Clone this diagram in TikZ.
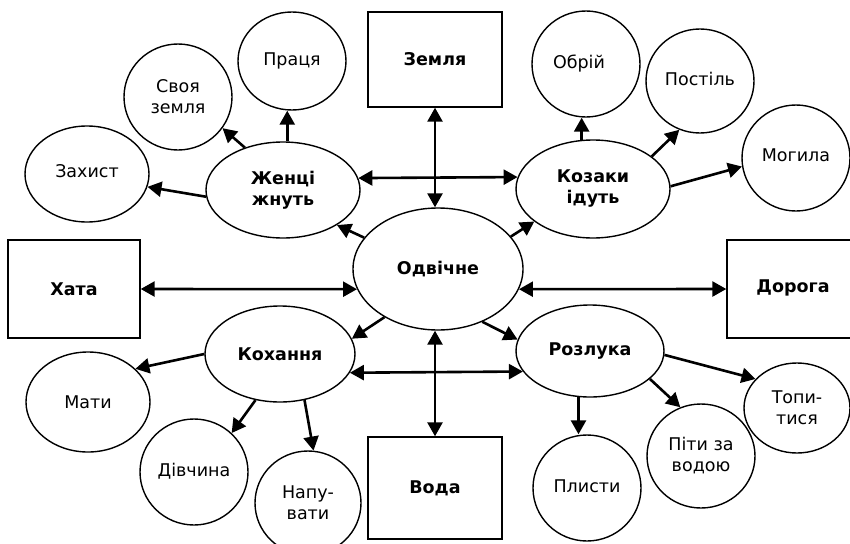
\documentclass[tikz,border=0pt]{standalone}
\usepackage{fontspec}
\setmainfont{DejaVu Sans}
\usetikzlibrary{shapes.geometric,arrows.meta}
\begin{document}
\begin{tikzpicture}[x=1pt,y=-1pt,
  every node/.style={font=\fontsize{17.5}{21}\selectfont, align=center, inner sep=0pt},
  el/.style={draw, ellipse, line width=1.4pt},
  bx/.style={draw, rectangle, line width=1.4pt},
  bold/.style={font=\fontsize{17.5}{21}\selectfont\bfseries},
  arr/.style={line width=2.6pt, -{Triangle[length=14pt,width=15pt]}},
  darr/.style={line width=2.6pt, {Triangle[length=14pt,width=15pt]}-{Triangle[length=14pt,width=15pt]}}]
\useasboundingbox (0,0) rectangle (850,543);
\clip (0,0) rectangle (850,543);
% boxes
\node[bx, bold, minimum width=134pt, minimum height=95pt] (zm) at (435,59.5) {Земля};
\node[bx, bold, minimum width=132pt, minimum height=98pt] (kh) at (74,289) {Хата};
\node[bx, bold, minimum width=132pt, minimum height=98pt] (dr) at (793,289) {\raisebox{6pt}{Дорога}};
\node[bx, bold, minimum width=134pt, minimum height=102pt] (vd) at (435,488) {Вода};
% main ellipses
\node[el, bold, minimum width=170pt, minimum height=122pt] (od) at (438,269) {Одвічне};
\node[el, bold, minimum width=154pt, minimum height=96pt] (zh) at (283,190) {Женці\\жнуть};
\node[el, bold, minimum width=154pt, minimum height=98pt] (kz) at (593,189) {Козаки\\ідуть};
\node[el, bold, minimum width=150pt, minimum height=96pt] (ko) at (280,354) {Кохання};
\node[el, bold, minimum width=148pt, minimum height=92pt] (ro) at (590,351) {Розлука};
% small circles
\node[el, minimum width=108pt, minimum height=98pt] (pr) at (292,61) {Праця};
\node[el, minimum width=108pt, minimum height=106pt] (sz) at (178,97) {Своя\\земля};
\node[el, minimum width=124pt, minimum height=96pt] (zx) at (87,174) {\raisebox{5pt}{Захист}};
\node[el, minimum width=108pt, minimum height=106pt] (ob) at (586,64) {\raisebox{4pt}{Обрій\hspace{14pt}}};
\node[el, minimum width=108pt, minimum height=104pt] (ps) at (700,81) {\raisebox{4pt}{Постіль}};
\node[el, minimum width=108pt, minimum height=106pt] (mg) at (796,158) {\raisebox{5pt}{Могила}};
\node[el, minimum width=124pt, minimum height=100pt] (mt) at (88,402) {Мати};
\node[el, minimum width=108pt, minimum height=106pt] (dv) at (194,472) {\raisebox{4pt}{Дівчина}};
\node[el, minimum width=106pt, minimum height=104pt] (np) at (308,503) {Напу-\\вати};
\node[el, minimum width=108pt, minimum height=106pt] (pl) at (587,488) {\raisebox{3pt}{Плисти}};
\node[el, minimum width=108pt, minimum height=104pt] (pt) at (701,456) {Піти за\\водою};
\node[el, minimum width=106pt, minimum height=90pt] (tp) at (797,408) {Топи-\\тися};
% central double arrows
\draw[darr] (zm.south) -- (zm.south |- od.north);
\draw[darr] (vd.north) -- (vd.north |- od.south);
\draw[darr] (kh.east) -- (od.194);
\draw[darr] (dr.west) -- (od.346);
\draw[darr] (zh.9) -- (kz.171.5);
\draw[darr] (ko.345.5) -- (ro.197.7);
% from centre
\draw[arr] (od.157.5) -- (zh.-33);
\draw[arr] (od.24) -- (kz.209);
\draw[arr] (od.222.8) -- (ko.12);
\draw[arr] (od.310) -- (ro.171);
% Женці жнуть
\draw[arr] (zh.85) -- (zh.85 |- pr.south);
\draw[arr] (zh.132) -- (sz.-35);
\draw[arr] (zh.185) -- (zx.-12.5);
% Козаки ідуть
\draw[arr] (kz.103) -- (kz.103 |- ob.south);
\draw[arr] (kz.29) -- (ps.247);
\draw[arr] (kz.2) -- (mg.189.5);
% Кохання
\draw[arr] (ko.180.8) -- (mt.35.5);
\draw[arr] (ko.242.5) -- (dv.46.5);
\draw[arr] (ko.298.4) -- (np.84.4);
% Розлука
\draw[arr] (ro.-3) -- (tp.145);
\draw[arr] (ro.-25) -- (pt.113.6);
\draw[arr] (ro.256.5) -- (ro.256.5 |- pl.north);
\end{tikzpicture}
\end{document}
